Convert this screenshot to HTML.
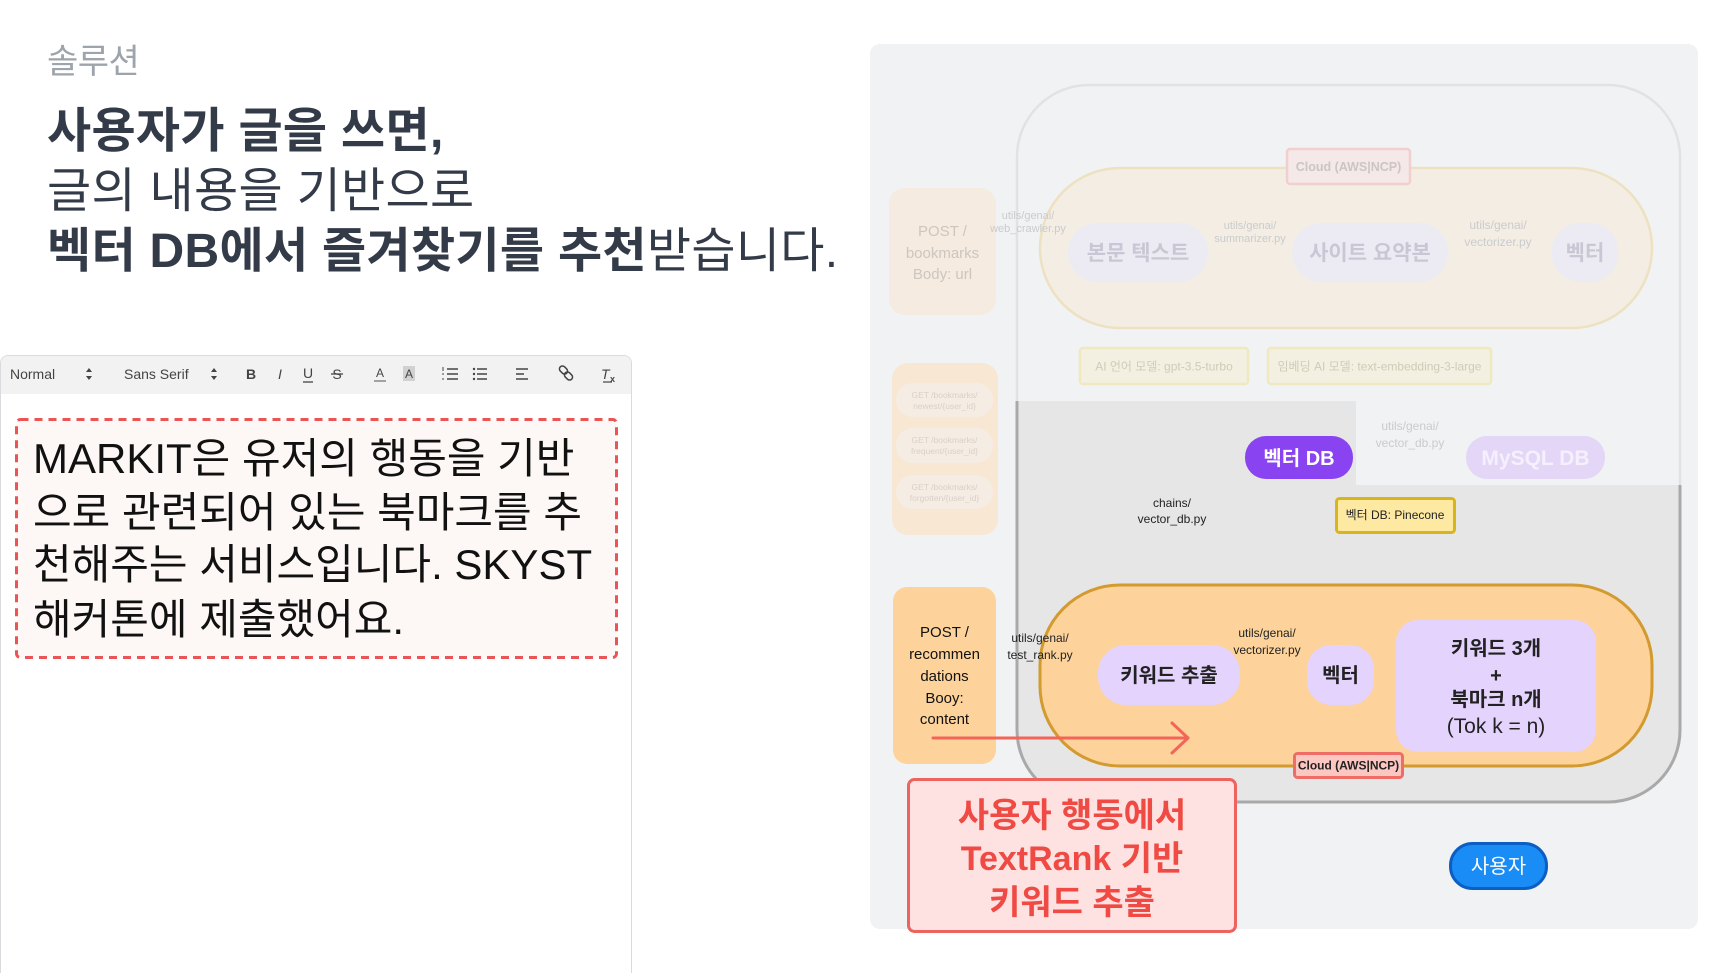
<!DOCTYPE html>
<html><head><meta charset="utf-8">
<style>
*{margin:0;padding:0;box-sizing:border-box}
html,body{width:1730px;height:973px;overflow:hidden;background:#fff}
body{position:relative;font-family:"Liberation Sans","Noto Sans CJK KR",sans-serif}
.t{position:absolute;white-space:nowrap;line-height:1}
.h{font-size:48px;letter-spacing:0.3px;color:#343b48}
.e{font-size:42px;color:#111;left:33px}
svg text{font-family:"Liberation Sans","Noto Sans CJK KR",sans-serif}
</style></head>
<body>
<!-- Header -->
<div class="t" style="left:47px;top:45px;font-size:34px;letter-spacing:-0.5px;color:#9ea4ab">솔루션</div>
<div class="t h" style="left:47px;top:108px;font-weight:700">사용자가 글을 쓰면,</div>
<div class="t h" style="left:47px;top:168px;font-weight:400">글의 내용을 기반으로</div>
<div class="t h" style="left:47px;top:228px"><b style="font-weight:700">벡터 DB에서 즐겨찾기를 추천</b>받습니다.</div>

<!-- Editor -->
<div style="position:absolute;left:0;top:355px;width:632px;height:640px;border:1px solid #d9dbde;border-radius:8px 8px 0 0;background:#fff;overflow:hidden">
  <div style="height:38px;background:#f2f2f3"></div>
</div>
<svg style="position:absolute;left:0;top:355px" width="632" height="38">
  <g fill="#444" font-size="14">
    <text x="10" y="24">Normal</text>
    <polygon points="86,17 92,17 89,13"/><polygon points="86,21 92,21 89,25"/>
    <text x="124" y="24">Sans Serif</text>
    <polygon points="211,17 217,17 214,13"/><polygon points="211,21 217,21 214,25"/>
    <text x="251" y="24" text-anchor="middle" font-weight="700">B</text>
    <text x="280" y="24" text-anchor="middle" font-style="italic" font-family="Liberation Serif">I</text>
    <text x="308" y="23" text-anchor="middle">U</text>
    <line x1="303" y1="27" x2="313" y2="27" stroke="#444" stroke-width="1.3"/>
    <text x="337" y="24" text-anchor="middle">S</text>
    <line x1="331" y1="19" x2="343" y2="19" stroke="#444" stroke-width="1.3"/>
    <text x="380" y="22" text-anchor="middle" font-size="12">A</text>
    <line x1="374" y1="26" x2="386" y2="26" stroke="#888" stroke-width="1.5"/>
    <rect x="403" y="11" width="12" height="15" fill="#bbb" opacity="0.6"/>
    <text x="409" y="23" text-anchor="middle" font-size="12">A</text>
  </g>
  <g stroke="#444" stroke-width="1.5" fill="none">
    <line x1="447" y1="14" x2="458" y2="14"/><line x1="447" y1="19" x2="458" y2="19"/><line x1="447" y1="24" x2="458" y2="24"/>
    <line x1="443" y1="12" x2="443" y2="16" stroke-width="1"/><line x1="442" y1="19" x2="444" y2="19" stroke-width="1"/><line x1="442" y1="24" x2="444" y2="24" stroke-width="1"/>
    <line x1="477" y1="14" x2="487" y2="14"/><line x1="477" y1="19" x2="487" y2="19"/><line x1="477" y1="24" x2="487" y2="24"/>
    <line x1="516" y1="14" x2="528" y2="14"/><line x1="516" y1="19" x2="524" y2="19"/><line x1="516" y1="24" x2="528" y2="24"/>
    <rect x="559" y="12" width="9" height="6" rx="3" transform="rotate(45 563.5 15)"/>
    <rect x="564" y="18" width="9" height="6" rx="3" transform="rotate(45 568.5 21)"/>
    <line x1="603" y1="27" x2="612" y2="27" stroke-width="1.2"/>
  </g>
  <g fill="#444"><circle cx="474" cy="14" r="1.2"/><circle cx="474" cy="19" r="1.2"/><circle cx="474" cy="24" r="1.2"/></g>
  <text x="601" y="24" font-size="14" font-style="italic" fill="#444">T</text>
  <text x="610" y="27" font-size="9" font-weight="700" fill="#444">x</text>
</svg>
<svg style="position:absolute;left:0;top:0" width="640" height="700">
  <rect x="16.5" y="419.5" width="600" height="238" rx="4" fill="#fdf8f6" stroke="#ea5455" stroke-width="3" stroke-dasharray="8 6"/>
</svg>
<div class="t e" style="top:438px">MARKIT은 유저의 행동을 기반</div>
<div class="t e" style="top:492px">으로 관련되어 있는 북마크를 추</div>
<div class="t e" style="top:544px">천해주는 서비스입니다. SKYST</div>
<div class="t e" style="top:599px">해커톤에 제출했어요.</div>

<!-- Diagram -->
<svg style="position:absolute;left:0;top:0" width="1730" height="973">
  <defs>
    <clipPath id="hl"><polygon points="990,401 1356,401 1356,485 1710,485 1710,850 990,850"/></clipPath>
  </defs>
  <rect x="870" y="44" width="828" height="885" rx="10" fill="#f1f2f4"/>
  <rect x="1017" y="85" width="663" height="717" rx="72" fill="none" stroke="#e0e2e5" stroke-width="2.5"/>
  <g clip-path="url(#hl)"><rect x="1017" y="85" width="663" height="717" rx="72" fill="#e6e6e6" stroke="#a9a9a9" stroke-width="3"/></g>

  <!-- faded top -->
  <rect x="889" y="188" width="107" height="127" rx="16" fill="#f5ebe0"/>
  <g font-size="15" fill="#cdc6bf" text-anchor="middle">
    <text x="942.5" y="236">POST /</text><text x="942.5" y="258">bookmarks</text><text x="942.5" y="279">Body: url</text>
  </g>
  <rect x="892" y="363" width="106" height="172" rx="16" fill="#f7e7d3"/>
  <rect x="896" y="383" width="97" height="34" rx="17" fill="#f5ede4"/>
  <rect x="896" y="428" width="97" height="35" rx="17" fill="#f5ede4"/>
  <rect x="896" y="475" width="97" height="34" rx="17" fill="#f5ede4"/>
  <g font-size="8.5" fill="#d9d0c7" text-anchor="middle">
    <text x="944.5" y="398">GET /bookmarks/</text><text x="944.5" y="409">newest/{user_id}</text>
    <text x="944.5" y="443">GET /bookmarks/</text><text x="944.5" y="454">frequent/{user_id}</text>
    <text x="944.5" y="490">GET /bookmarks/</text><text x="944.5" y="501">forgotten/{user_id}</text>
  </g>
  <rect x="1040" y="168" width="612" height="160" rx="80" fill="#f4ede3" stroke="#eee1c2" stroke-width="2.5"/>
  <g font-size="11" fill="#c9cbce" text-anchor="middle">
    <text x="1028" y="219">utils/genai/</text><text x="1028" y="232">web_crawler.py</text>
  </g>
  <rect x="1287" y="149" width="123" height="35" rx="3" fill="#f4e8e8" stroke="#f2cfcf" stroke-width="2.5"/>
  <text x="1348.5" y="171" font-size="12.5" font-weight="700" fill="#cbc5c5" text-anchor="middle">Cloud (AWS|NCP)</text>
  <rect x="1068" y="223" width="140" height="59" rx="29" fill="#ecebf3"/>
  <rect x="1292" y="223" width="156" height="59" rx="29" fill="#ecebf3"/>
  <rect x="1552" y="223" width="66" height="59" rx="28" fill="#ecebf3"/>
  <g font-size="21" font-weight="700" fill="#cac7d5" text-anchor="middle">
    <text x="1138" y="260">본문 텍스트</text><text x="1370" y="260">사이트 요약본</text><text x="1585" y="260">벡터</text>
  </g>
  <g font-size="11" fill="#c9cbce" text-anchor="middle">
    <text x="1250" y="229">utils/genai/</text><text x="1250" y="242">summarizer.py</text>
  </g>
  <g font-size="12" fill="#c9cbce" text-anchor="middle">
    <text x="1498" y="229">utils/genai/</text><text x="1498" y="246">vectorizer.py</text>
    <text x="1410" y="430">utils/genai/</text><text x="1410" y="447">vector_db.py</text>
  </g>
  <rect x="1080" y="348" width="168" height="36" rx="3" fill="#f3f0e2" stroke="#f0e9c0" stroke-width="2.5"/>
  <rect x="1268" y="348" width="223" height="36" rx="3" fill="#f3f0e2" stroke="#f0e9c0" stroke-width="2.5"/>
  <g font-size="12" fill="#cfcbb8" text-anchor="middle">
    <text x="1164" y="370.5">AI 언어 모델: gpt-3.5-turbo</text>
    <text x="1379.5" y="370.5">임베딩 AI 모델: text-embedding-3-large</text>
  </g>
  <rect x="1466" y="436" width="139" height="43" rx="21" fill="#e3d6f7"/>
  <text x="1535.5" y="465" font-size="21" font-weight="700" fill="#f5f0fc" text-anchor="middle">MySQL DB</text>

  <!-- full color -->
  <rect x="1245" y="436" width="108" height="43" rx="21" fill="#8a43f1"/>
  <text x="1299" y="465" font-size="20" font-weight="700" fill="#fff" text-anchor="middle">벡터 DB</text>
  <g font-size="12" fill="#222" text-anchor="middle">
    <text x="1172" y="507">chains/</text><text x="1172" y="523">vector_db.py</text>
  </g>
  <rect x="1336.5" y="498.5" width="118" height="34" rx="3" fill="#fde9a2" stroke="#d8b51b" stroke-width="3"/>
  <text x="1395" y="519" font-size="12" fill="#222" text-anchor="middle">벡터 DB: Pinecone</text>

  <rect x="1040" y="585" width="612" height="181" rx="80" fill="#fdd39b" stroke="#d39a30" stroke-width="3"/>
  <rect x="1294.5" y="753.5" width="108" height="24" rx="3" fill="#fdc7c1" stroke="#ee6d66" stroke-width="3"/>
  <text x="1348.5" y="769.5" font-size="12" font-weight="700" fill="#222" text-anchor="middle">Cloud (AWS|NCP)</text>
  <g font-size="12" fill="#222" text-anchor="middle">
    <text x="1040" y="642">utils/genai/</text><text x="1040" y="659">test_rank.py</text>
    <text x="1267" y="637">utils/genai/</text><text x="1267" y="654">vectorizer.py</text>
  </g>
  <rect x="1098" y="645" width="142" height="60" rx="28" fill="#e4d3fc"/>
  <rect x="1307" y="645" width="67" height="60" rx="24" fill="#e4d3fc"/>
  <rect x="1396" y="620" width="200" height="132" rx="22" fill="#e4d3fc"/>
  <g font-size="20" font-weight="700" fill="#222" text-anchor="middle">
    <text x="1169" y="682">키워드 추출</text>
    <text x="1340.5" y="682">벡터</text>
    <text x="1496" y="655">키워드 3개</text>
    <text x="1496" y="682">+</text>
    <text x="1496" y="706">북마크 n개</text>
  </g>
  <text x="1496" y="733" font-size="21" fill="#222" text-anchor="middle">(Tok k = n)</text>

  <rect x="893" y="587" width="103" height="177" rx="14" fill="#fdd39b"/>
  <g font-size="15" fill="#111" text-anchor="middle">
    <text x="944.5" y="637">POST /</text><text x="944.5" y="659">recommen</text><text x="944.5" y="681">dations</text>
    <text x="944.5" y="703">Booy:</text><text x="944.5" y="724">content</text>
  </g>
  <g stroke="#f26558" stroke-width="3" fill="none" stroke-linecap="round" stroke-linejoin="round">
    <line x1="933" y1="738" x2="1188" y2="738"/>
    <polyline points="1172,723 1188,738 1172,753"/>
  </g>

  <rect x="908.5" y="779.5" width="327" height="152" rx="6" fill="#fee2e1" stroke="#ee6360" stroke-width="3"/>
  <g font-size="34" font-weight="700" fill="#ef4a43" text-anchor="middle">
    <text x="1072" y="827">사용자 행동에서</text>
    <text x="1072" y="870">TextRank 기반</text>
    <text x="1072" y="914">키워드 추출</text>
  </g>
  <rect x="1450.5" y="843.5" width="96" height="45" rx="22" fill="#1a8cf6" stroke="#0c5ec3" stroke-width="3"/>
  <text x="1498.5" y="873" font-size="20" fill="#fff" text-anchor="middle">사용자</text>
</svg>
</body></html>
